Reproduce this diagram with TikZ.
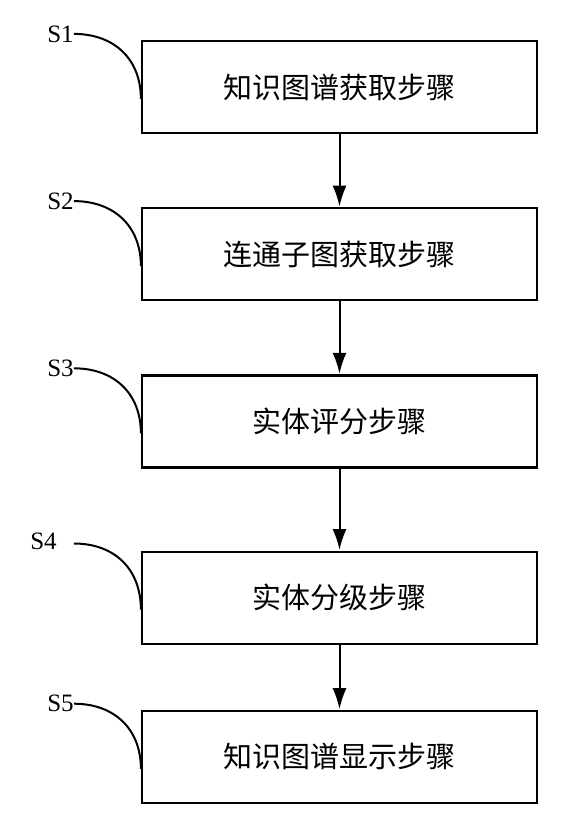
\documentclass[tikz,border=0pt]{standalone}
\usepackage{fontspec}
\setmainfont{Liberation Serif}
\newfontfamily\cjk{Noto Sans CJK SC}
\usetikzlibrary{positioning,arrows.meta}

\begin{document}
\begin{tikzpicture}[x=1pt, y=1pt, node distance=73pt,
    stepbox/.style={rectangle, draw, line width=2.2pt, minimum width=395pt, minimum height=92pt, font=\cjk\fontsize{29}{29}\selectfont},
    tag/.style={font=\fontsize{25}{25}\selectfont, inner sep=0pt},
    flow/.style={-{Latex[length=21pt, width=14pt]}, line width=2pt, shorten >=0.5pt}]
    \useasboundingbox (0,0) rectangle (561,-820);

                % Nodes
                \node[stepbox] (b1) at (339.5,-87) {知识图谱获取步骤};
                \node[stepbox, below=of b1] (b2) {连通子图获取步骤};
                \node[stepbox, below=of b2] (b3) {实体评分步骤};
                \node[stepbox, below=of b3, yshift=-9pt] (b4) {实体分级步骤};
                \node[stepbox, below=of b4, yshift=8pt] (b5) {知识图谱显示步骤};

                % Labels
                \node[tag, left=67pt of b1.north west, yshift=6pt] (s1) {S1};
                \node[tag, left=67pt of b2.north west, yshift=6pt] (s2) {S2};
                \node[tag, left=67pt of b3.north west, yshift=6pt] (s3) {S3};
                \node[tag, left=84pt of b4.north west, yshift=9pt] (s4) {S4};
                \node[tag, left=67pt of b5.north west, yshift=6pt] (s5) {S5};
                \coordinate[right=17pt of s4.east, yshift=-2pt] (s4c);

                % Leader curves
                \draw[line width=2pt] (s1.east) to[out=0, in=90, looseness=1.1] ([yshift=-12pt]b1.west);
                \draw[line width=2pt] (s2.east) to[out=0, in=90, looseness=1.1] ([yshift=-12pt]b2.west);
                \draw[line width=2pt] (s3.east) to[out=0, in=90, looseness=1.1] ([yshift=-12pt]b3.west);
                \draw[line width=2pt] (s4c) to[out=0, in=90, looseness=1.1] ([yshift=-12pt]b4.west);
                \draw[line width=2pt] (s5.east) to[out=0, in=90, looseness=1.1] ([yshift=-12pt]b5.west);

                % Arrows
                \draw[flow] (b1) -- (b2);
                \draw[flow] (b2) -- (b3);
                \draw[flow] (b3) -- (b4);
                \draw[flow] (b4) -- (b5);

\end{tikzpicture}
\end{document}
